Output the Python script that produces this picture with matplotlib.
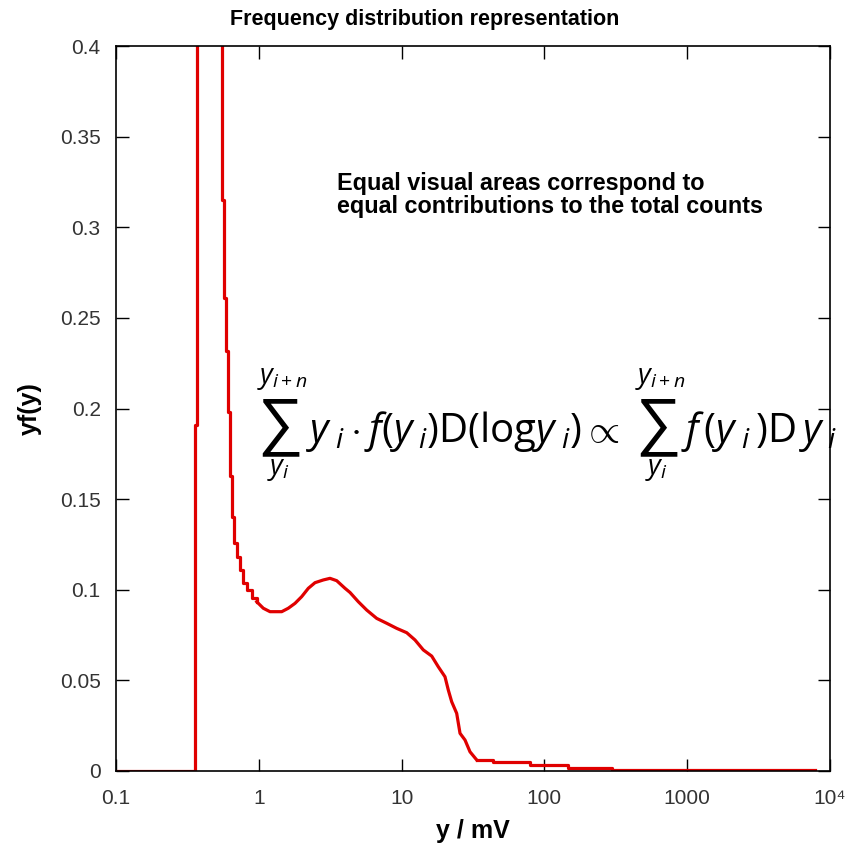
import matplotlib
matplotlib.use("Agg")
import matplotlib.pyplot as plt
from matplotlib.ticker import FixedLocator, FixedFormatter, NullLocator

plt.rcParams['font.family'] = ['Liberation Sans', 'DejaVu Sans']
plt.rcParams['mathtext.fontset'] = 'custom'
plt.rcParams['mathtext.rm'] = 'Open Sans'
plt.rcParams['mathtext.it'] = 'Open Sans:italic'
plt.rcParams['mathtext.bf'] = 'Open Sans:bold'

# bin left edges (mV) and heights yf(y)
y_edges = [0.1, 0.357, 0.369, 0.552, 0.571, 0.586, 0.609, 0.629, 0.646, 0.670,
           0.704, 0.739, 0.775, 0.827, 0.896, 0.967, 1.075, 1.198, 1.447, 1.609,
           1.793, 1.997, 2.222, 2.475, 2.829, 3.152, 3.512, 4.015, 4.352, 4.975,
           5.696, 6.693, 7.866, 9.24, 10.86, 12.41, 14.19, 16.25, 18.07, 20.13,
           21.23, 22.43, 24.31, 25.65, 27.80, 30.13, 33.57, 43.66, 79.3, 146.3,
           297.4, 2539, 7852]
yf = [0.0, 0.191, 0.55, 0.315, 0.261, 0.232, 0.198, 0.163, 0.140, 0.126,
      0.118, 0.111, 0.104, 0.0999, 0.0955, 0.0934, 0.0898, 0.0879, 0.0879, 0.0898,
      0.0925, 0.0962, 0.1008, 0.1039, 0.1054, 0.1063, 0.1050, 0.1008, 0.0985, 0.0934,
      0.0888, 0.0842, 0.0815, 0.0787, 0.0763, 0.0723, 0.0668, 0.0634, 0.0575, 0.0520,
      0.0447, 0.0382, 0.0318, 0.0208, 0.0171, 0.0106, 0.0061, 0.0050, 0.0033, 0.0017,
      0.0006, 0.0004, 0.0004]

x_ticks = [0.1, 1, 10, 100, 1000, 10000]
x_labels = ['0.1', '1', '10', '100', '1000', '10\u2074']
y_ticks = [0, 0.05, 0.1, 0.15, 0.2, 0.25, 0.3, 0.35, 0.4]
y_labels = ['0', '0.05', '0.1', '0.15', '0.2', '0.25', '0.3', '0.35', '0.4']

W, H = 856, 843
fig = plt.figure(figsize=(W / 100, H / 100), dpi=100)
ax = fig.add_axes([116 / W, 1 - 771 / H, 714 / W, 725 / H])

red = '#e00000'
# narrow bins near the peak, the smooth middle, then the wide tail bins
i1, i2 = 15, 46
ax.plot(y_edges[:i1 + 1], yf[:i1 + 1], drawstyle='steps-post', color=red, lw=2.3)
ax.plot(y_edges[i1:i2 + 1], yf[i1:i2 + 1], color=red, lw=2.3)
ax.plot(y_edges[i2:], yf[i2:], drawstyle='steps-post', color=red, lw=2.3)

ax.set_xscale('log')
ax.set_xlim(0.1, 10000)
ax.set_ylim(0, 0.4)
ax.xaxis.set_major_locator(FixedLocator(x_ticks))
ax.xaxis.set_major_formatter(FixedFormatter(x_labels))
ax.xaxis.set_minor_locator(NullLocator())
ax.set_yticks(y_ticks)
ax.set_yticklabels(y_labels)
ax.tick_params(direction='in', length=9, width=1, top=True, right=True,
               labelsize=15, labelcolor='#333333')
ax.tick_params(axis='x', pad=13)
ax.tick_params(axis='y', pad=11)
for s in ax.spines.values():
    s.set_linewidth(1.2)

ax.set_xlabel('y / mV', fontsize=18, fontweight='bold', va='center')
ax.xaxis.set_label_coords(0.5, (771 - 831) / 725)
ax.set_ylabel('yf(y)', fontsize=18, fontweight='bold', va='center')
ax.yaxis.set_label_coords((30 - 116) / 714, 0.5)

fig.text(425 / W, 1 - 20 / H, 'Frequency distribution representation',
         ha='center', va='center', fontsize=15.5, fontweight='bold')

fig.text(337 / W, 1 - 172 / H,
         'Equal visual areas correspond to\nequal contributions to the total counts',
         ha='left', va='top', fontsize=16.8, fontweight='bold', linespacing=1.0)

# formula, assembled piece by piece so the sums can be drawn large
fig.canvas.draw()
rend = fig.canvas.get_renderer()
base = H - 442
size = 29


def put(x, s, **kw):
    t = fig.text(x / W, base / H, s, va='baseline', ha='left', **kw)
    return t.get_window_extent(rend)


def big_sum(x):
    bb = put(x, '\u2211', fontsize=46, family=['Liberation Sans', 'DejaVu Sans'])
    fig.text(x / W, (H - 379) / H, r'$y_{i+n}$', ha='left', va='center',
             fontsize=20)
    fig.text((x + 10) / W, (H - 470) / H, r'$y_{i}$', ha='left', va='center',
             fontsize=20)
    return bb


bb = big_sum(257)
bb = put(bb.x1 + 3, r'$y_{\;i}\cdot f(y_{\;i})\mathrm{D}(\mathrm{log}y_{\;i})\propto$',
         fontsize=size)
bb = big_sum(bb.x1 + 16)
put(bb.x1 + 1, r'$f\,(y_{\;i}\,)\mathrm{D}\,y_{\;i}$', fontsize=size)

fig.savefig('out.png', dpi=100)
